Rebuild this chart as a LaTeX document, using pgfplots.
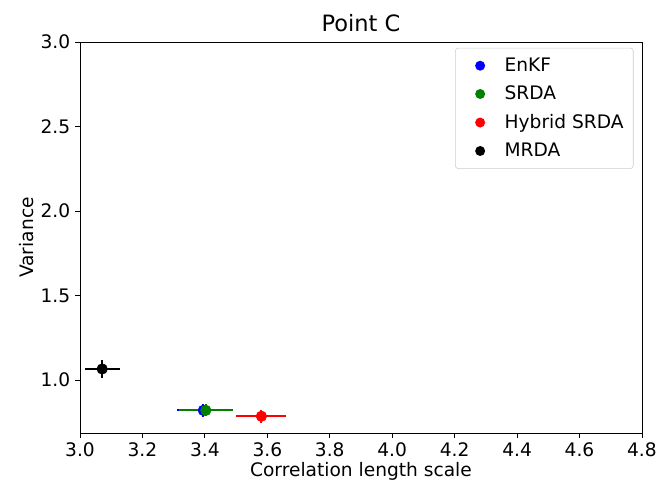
\documentclass[border=0pt]{standalone}
\usepackage{pgfplots}
\pgfplotsset{compat=1.18}
\usepackage{fontspec}
\setmainfont{DejaVu Sans}
\definecolor{mgreen}{rgb}{0,0.5,0}
\begin{document}
\begin{tikzpicture}
\begin{axis}[
  scale only axis,
  width=404.6pt, height=281.5pt,
  xmin=3.0, xmax=4.8, ymin=0.686, ymax=3.0,
  xtick={3.0,3.2,...,4.81},
  ytick={1.0,1.5,2.0,2.5,3.0},
  xticklabel style={/pgf/number format/.cd, fixed, fixed zerofill, precision=1},
  yticklabel style={/pgf/number format/.cd, fixed, fixed zerofill, precision=1},
  /pgf/number format/assume math mode=true,
  tick label style={font=\fontsize{13.4}{15}\selectfont},
  label style={font=\fontsize{13.4}{15}\selectfont},
  title style={font=\fontsize{16.2}{18}\selectfont, yshift=-2pt},
  title={Point C},
  xlabel={Correlation length scale},
  ylabel={Variance},
  xlabel style={yshift=3pt},
  ylabel style={yshift=-2pt},
  tick align=outside,
  xtick pos=left, ytick pos=left,
  major tick length=3.5pt,
  every tick/.style={black, line width=0.6pt},
  axis line style={line width=0.6pt},
  legend style={draw=black!20, rounded corners=2pt, font=\fontsize{13.4}{15}\selectfont, row sep=5pt, inner xsep=5pt, inner ysep=5pt, at={(0.985,0.985)}, anchor=north east},
  legend cell align=left,
  legend image code/.code={\fill[#1, draw=none] (0.45cm,0cm) circle (3.6pt); \path[draw=none, fill=none] (0cm,0cm) rectangle (1cm,0.1cm);},
]
\addplot+[only marks, mark=*, mark size=3.8pt, color=blue, mark options={fill=blue, draw=blue},
  error bars/.cd, x dir=both, x explicit, y dir=both, y explicit, error mark=none,
  error bar style={line width=1.3pt, blue}]
  coordinates {(3.395,0.820) +- (0.085,0.040)};
\addlegendentry{EnKF}
\addplot+[only marks, mark=*, mark size=3.8pt, color=mgreen, mark options={fill=mgreen, draw=mgreen},
  error bars/.cd, x dir=both, x explicit, y dir=both, y explicit, error mark=none,
  error bar style={line width=1.3pt, mgreen}]
  coordinates {(3.403,0.820) +- (0.087,0.035)};
\addlegendentry{SRDA}
\addplot+[only marks, mark=*, mark size=3.8pt, color=red, mark options={fill=red, draw=red},
  error bars/.cd, x dir=both, x explicit, y dir=both, y explicit, error mark=none,
  error bar style={line width=1.3pt, red}]
  coordinates {(3.581,0.785) +- (0.080,0.037)};
\addlegendentry{Hybrid SRDA}
\addplot+[only marks, mark=*, mark size=3.8pt, color=black, mark options={fill=black, draw=black},
  error bars/.cd, x dir=both, x explicit, y dir=both, y explicit, error mark=none,
  error bar style={line width=1.3pt, black}]
  coordinates {(3.071,1.065) +- (0.056,0.054)};
\addlegendentry{MRDA}
\end{axis}
\pgfresetboundingbox
\path (-57.6pt,-38.16pt) rectangle (417.6pt,311.76pt);
\end{tikzpicture}
\end{document}
